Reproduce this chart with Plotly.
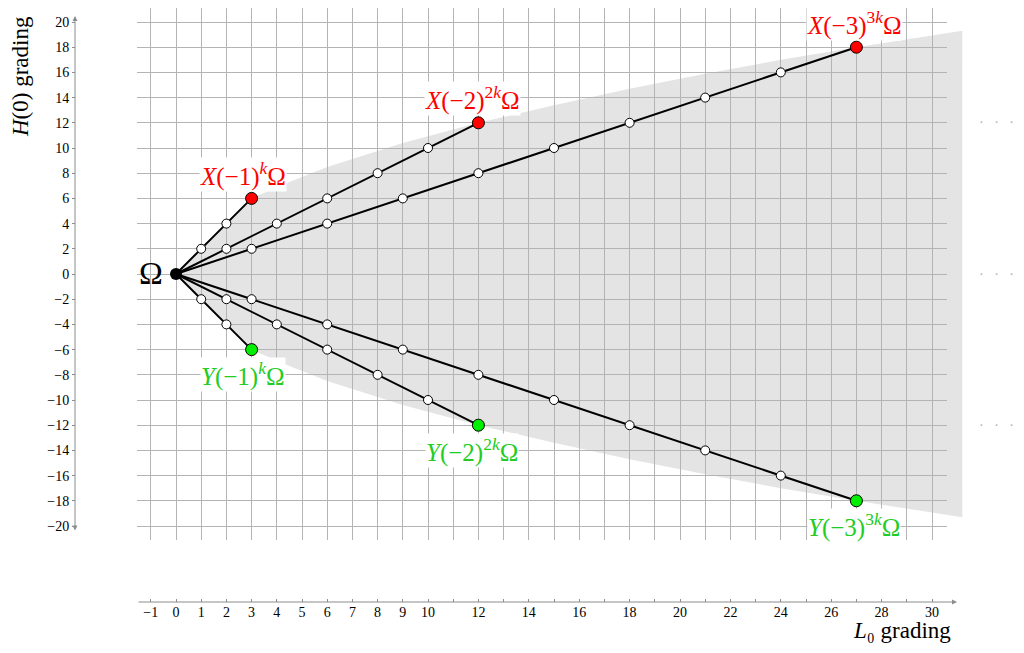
import plotly.graph_objects as go

# ---------------- data ----------------
# X-type chains (L0 grading, H(0) grading)
x_chain1 = [0, 1, 2, 3]
h_chain1_up = [0, 2, 4, 6]
x_chain2 = [0, 2, 4, 6, 8, 10, 12]
h_chain2_up = [0, 2, 4, 6, 8, 10, 12]
x_chain3 = [0, 3, 6, 9, 12, 15, 18, 21, 24, 27]
h_chain3_up = [0, 2, 4, 6, 8, 10, 12, 14, 16, 18]
# Y-type chains
h_chain1_down = [0, -2, -4, -6]
h_chain2_down = [0, -2, -4, -6, -8, -10, -12]
h_chain3_down = [0, -2, -4, -6, -8, -10, -12, -14, -16, -18]

end_x = [3, 12, 27]
end_h_up = [6, 12, 18]
end_h_down = [-6, -12, -18]
labels_up = ["<i>X</i>(−1)<sup><i>k</i></sup>Ω",
             "<i>X</i>(−2)<sup>2<i>k</i></sup>Ω",
             "<i>X</i>(−3)<sup>3<i>k</i></sup>Ω"]
labels_down = ["<i>Y</i>(−1)<sup><i>k</i></sup>Ω",
               "<i>Y</i>(−2)<sup>2<i>k</i></sup>Ω",
               "<i>Y</i>(−3)<sup>3<i>k</i></sup>Ω"]
label_dx = [-9, -6, -2]

# shaded region boundary
shade_x = [0, 3, 4.5, 6, 9, 12, 15, 18, 21, 24, 27, 31.2]
shade_top = [0, 6, 7.3, 8.5, 10.4, 12, 13.4, 14.7, 15.9, 17, 18, 19.3]
shade_bottom = [0, -6, -7.3, -8.5, -10.4, -12, -13.4, -14.7, -15.9, -17, -18, -19.3]

x_tickvals = [-1, 0, 1, 2, 3, 4, 5, 6, 7, 8, 9, 10,
              12, 14, 16, 18, 20, 22, 24, 26, 28, 30]
x_ticktext = ["−1", "0", "1", "2", "3", "4", "5", "6", "7", "8", "9", "10",
              "12", "14", "16", "18", "20", "22", "24", "26", "28", "30"]
x_minor_ticks = [11, 13, 15, 17, 19, 21, 23, 25, 27, 29]
y_tickvals = list(range(-20, 21, 2))
y_ticktext = ["−20", "−18", "−16", "−14", "−12", "−10", "−8", "−6", "−4", "−2",
              "0", "2", "4", "6", "8", "10", "12", "14", "16", "18", "20"]

# ---------------- layout frame ----------------
# positions below are given in window pixels; the page body adds an 8px offset
OFF = 8
FW, FH = 1024 - 2 * OFF, 653 - 2 * OFF
PL, PR, PT, PB = 75 - OFF, FW, 0, 602 - OFF   # plot area in figure pixels
W, H = PR - PL, PB - PT
X0, SX = 176.0, 25.2   # window pixel of x=0, px per unit
Y0, SY = 274.0, 12.6   # window pixel of y=0, px per unit

def pxx(p):
    return (p - OFF - PL) / W

def pxy(p):
    return (PB - (p - OFF)) / H

def dat_x(p):
    return (p - X0) / SX

def dat_y(p):
    return (Y0 - p) / SY

GRID_L, GRID_R, GRID_T, GRID_B = 137, 947, 8, 540
SHADE_R = 1016

FONT = "Liberation Serif"
GRID_COLOR = "#b4b4b4"
AX_COLOR = "#8c8c8c"

fig = go.Figure()

# shaded cone (subplot xy, wider domain)
fig.add_trace(go.Scatter(
    x=shade_x + shade_x[::-1], y=shade_top + shade_bottom[::-1],
    fill="toself", fillcolor="#e4e4e4", line=dict(width=0),
    mode="lines", hoverinfo="skip", showlegend=False, xaxis="x", yaxis="y"))

line_style = dict(color="black", width=2)
mk_white = dict(size=9, color="white", line=dict(color="black", width=1))
chains = [(x_chain1, h_chain1_up), (x_chain2, h_chain2_up), (x_chain3, h_chain3_up),
          (x_chain1, h_chain1_down), (x_chain2, h_chain2_down), (x_chain3, h_chain3_down)]
for xs, hs in chains:
    fig.add_trace(go.Scatter(x=xs, y=hs, mode="lines+markers", line=line_style,
                             marker=mk_white, showlegend=False,
                             xaxis="x2", yaxis="y2"))

fig.add_trace(go.Scatter(x=end_x, y=end_h_up, mode="markers",
                         marker=dict(size=12, color="#ff0000", line=dict(color="black", width=1)),
                         showlegend=False, xaxis="x2", yaxis="y2"))
fig.add_trace(go.Scatter(x=end_x, y=end_h_down, mode="markers",
                         marker=dict(size=12, color="#00ee00", line=dict(color="black", width=1)),
                         showlegend=False, xaxis="x2", yaxis="y2"))
fig.add_trace(go.Scatter(x=[0], y=[0], mode="markers",
                         marker=dict(size=12, color="black"),
                         showlegend=False, xaxis="x2", yaxis="y2"))
# dummy trace to attach the free axes
fig.add_trace(go.Scatter(x=[None], y=[None], mode="markers", showlegend=False,
                         xaxis="x3", yaxis="y3", hoverinfo="skip"))

LBL = 25
annotations = []
for xv, hv, t, dx in zip(end_x, end_h_up, labels_up, label_dx):
    annotations.append(dict(x=xv, y=hv, xref="x2", yref="y2", text=t, showarrow=False,
                            xshift=dx, yshift=24, bgcolor="white", borderpad=0,
                            font=dict(family=FONT, size=LBL, color="#ff0000")))
for xv, hv, t, dx in zip(end_x, end_h_down, labels_down, label_dx):
    annotations.append(dict(x=xv, y=hv, xref="x2", yref="y2", text=t, showarrow=False,
                            xshift=dx, yshift=-25, bgcolor="white", borderpad=0,
                            font=dict(family=FONT, size=LBL, color="#22cc22")))
annotations.append(dict(x=0, y=0, xref="x2", yref="y2", text="Ω", showarrow=False,
                        xshift=-25, yshift=1, font=dict(family=FONT, size=32, color="black")))
for hv in [12, 0, -12]:
    annotations.append(dict(x=1.0, y=hv, xref="paper", yref="y2",
                            text="·&nbsp;&nbsp;&nbsp;·&nbsp;&nbsp;&nbsp;·",
                            xanchor="right", showarrow=False,
                            font=dict(family=FONT, size=14, color="#b0b0b0")))
# axis lines with arrows
annotations.append(dict(x=pxx(957), y=pxy(602), xref="paper", yref="paper", text="",
                        showarrow=True, ax=-(957 - 137), ay=0, arrowhead=2, arrowsize=1,
                        arrowwidth=1, arrowcolor=AX_COLOR))
annotations.append(dict(x=pxx(75), y=pxy(16), xref="paper", yref="paper", text="",
                        showarrow=True, ax=0, ay=(532 - 16), arrowhead=2, arrowsize=1,
                        arrowwidth=1, arrowcolor=AX_COLOR, arrowside="end+start"))
# axis titles
annotations.append(dict(x=pxx(953), y=pxy(645), xref="paper", yref="paper",
                        text="<i>L</i>₀ grading", showarrow=False,
                        xanchor="right", yanchor="bottom",
                        font=dict(family=FONT, size=23, color="black")))
annotations.append(dict(x=pxx(21), y=pxy(77), xref="paper", yref="paper",
                        text="<i>H</i>(0) grading", showarrow=False, textangle=-90,
                        xanchor="center", yanchor="middle",
                        font=dict(family=FONT, size=23, color="black")))

yr = [dat_y(GRID_B), dat_y(GRID_T)]
fig.update_layout(
    width=FW, height=FH,
    margin=dict(l=PL, r=FW - PR, t=PT, b=FH - PB, pad=0),
    paper_bgcolor="white", plot_bgcolor="rgba(0,0,0,0)",
    showlegend=False,
    xaxis=dict(domain=[pxx(GRID_L), min(1.0, pxx(SHADE_R))],
               range=[dat_x(GRID_L), dat_x(SHADE_R)],
               visible=False, fixedrange=True),
    yaxis=dict(domain=[pxy(GRID_B), pxy(GRID_T)], range=yr, anchor="x",
               visible=False, fixedrange=True),
    xaxis2=dict(domain=[pxx(GRID_L), pxx(GRID_R)], range=[dat_x(GRID_L), dat_x(GRID_R)],
                anchor="y2", showgrid=True, gridcolor=GRID_COLOR, gridwidth=1,
                tick0=0, dtick=1, showticklabels=False, ticks="", zeroline=False,
                showline=False),
    yaxis2=dict(domain=[pxy(GRID_B), pxy(GRID_T)], range=yr, anchor="x2",
                showgrid=True, gridcolor=GRID_COLOR, gridwidth=1,
                tick0=0, dtick=2, showticklabels=False, ticks="", zeroline=False,
                showline=False),
    xaxis3=dict(overlaying="x2", anchor="free", position=0, side="bottom",
                range=[dat_x(GRID_L), dat_x(GRID_R)],
                tickmode="array", tickvals=x_tickvals, ticktext=x_ticktext,
                ticks="inside", ticklen=3, tickcolor=AX_COLOR, showline=False,
                showgrid=False, zeroline=False,
                minor=dict(tickmode="array", tickvals=x_minor_ticks, ticks="inside",
                           ticklen=3, tickcolor=AX_COLOR, showgrid=False),
                tickfont=dict(family=FONT, size=14, color="black")),
    yaxis3=dict(overlaying="y2", anchor="free", position=0, side="left",
                range=yr,
                tickmode="array", tickvals=y_tickvals, ticktext=y_ticktext,
                ticks="outside", ticklen=3, tickcolor=AX_COLOR, showline=False,
                showgrid=False, zeroline=False,
                tickfont=dict(family=FONT, size=14, color="black")),
    annotations=annotations,
)

fig.write_html("out.html")
